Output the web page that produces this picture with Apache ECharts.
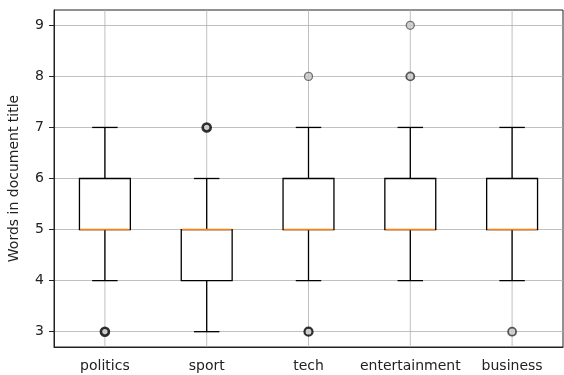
<!DOCTYPE html>
<html><head><meta charset="utf-8">
<script src="https://cdn.jsdelivr.net/npm/echarts@6/dist/echarts.min.js"></script>
<style>html,body{margin:0;padding:0;background:#fff}#c{width:564px;height:375px}</style>
</head><body><div id="c"></div>
<script>
const categories = ['politics', 'sport', 'tech', 'entertainment', 'business'];
const whiskerLow  = [4, 3, 4, 4, 4];
const q1          = [5, 4, 5, 5, 5];
const median      = [5, 5, 5, 5, 5];
const q3          = [6, 5, 6, 6, 6];
const whiskerHigh = [7, 6, 7, 7, 7];
// outliers: [category index, value, estimated number of overlapping points]
const outlierCat   = [0, 1, 2, 2, 3, 3, 4];
const outlierValue = [3, 7, 8, 3, 9, 8, 3];
const outlierCount = [30, 30, 1, 12, 1, 5, 4];
const yTicks = [3, 4, 5, 6, 7, 8, 9];

const boxData = categories.map((c, i) => [i, whiskerLow[i], q1[i], median[i], q3[i], whiskerHigh[i]]);
const outData = outlierCat.map((c, i) => ({
  value: [c, outlierValue[i]],
  itemStyle: {
    borderColor: outlierCount[i] > 10 ? '#000' : (outlierCount[i] > 2 ? '#333' : '#555'),
    borderWidth: outlierCount[i] > 20 ? 2.6 : (outlierCount[i] > 10 ? 2.2 : (outlierCount[i] > 2 ? 1.8 : 1.3))
  }
}));

const lineStyle = { stroke: '#000', lineWidth: 1.3, fill: null };

function renderGrid(params, api) {
  const cs = params.coordSys;
  const p = api.coord([api.value(0), 0]);
  return { type: 'line', shape: { x1: p[0], y1: cs.y, x2: p[0], y2: cs.y + cs.height },
    style: { stroke: '#b0b0b0', lineWidth: 0.8 }, silent: true };
}

function renderBox(params, api) {
  const i = api.value(0);
  const pLo = api.coord([i, api.value(1)]);
  const pQ1 = api.coord([i, api.value(2)]);
  const pMd = api.coord([i, api.value(3)]);
  const pQ3 = api.coord([i, api.value(4)]);
  const pHi = api.coord([i, api.value(5)]);
  const band = api.size([1, 0])[0];
  const bw = band * 0.5, cw = band * 0.25;
  const x = pMd[0];
  return {
    type: 'group',
    children: [
      { type: 'line', shape: { x1: x, y1: pQ1[1], x2: x, y2: pLo[1] }, style: lineStyle },
      { type: 'line', shape: { x1: x, y1: pQ3[1], x2: x, y2: pHi[1] }, style: lineStyle },
      { type: 'line', shape: { x1: x - cw / 2, y1: pLo[1], x2: x + cw / 2, y2: pLo[1] }, style: lineStyle },
      { type: 'line', shape: { x1: x - cw / 2, y1: pHi[1], x2: x + cw / 2, y2: pHi[1] }, style: lineStyle },
      { type: 'rect', shape: { x: x - bw / 2, y: pQ3[1], width: bw, height: pQ1[1] - pQ3[1] },
        style: { stroke: '#000', lineWidth: 1.3, fill: '#fff' } },
      { type: 'line', shape: { x1: x - bw / 2 + 0.7, y1: pMd[1], x2: x + bw / 2 - 0.7, y2: pMd[1] },
        style: { stroke: '#ff7f0e', lineWidth: 1.6 } }
    ]
  };
}

const chart = echarts.init(document.getElementById('c'), null, { renderer: 'canvas' });
const txt = { color: '#222', fontFamily: 'DejaVu Sans', fontSize: 14 };
chart.setOption({
  animation: false,
  grid: { left: 54, right: 1, top: 10, bottom: 28, show: true, borderColor: '#222', borderWidth: 1,
    backgroundColor: 'transparent', containLabel: false, outerBoundsMode: 'none' },
  xAxis: {
    type: 'category', data: categories, boundaryGap: true,
    axisLine: { lineStyle: { color: '#222', width: 1 } },
    axisTick: { alignWithLabel: true, length: 5, lineStyle: { color: '#222' } },
    axisLabel: Object.assign({ margin: 12, interval: 0 }, txt),
    splitLine: { show: false }
  },
  yAxis: {
    type: 'value', min: 2.7, max: 9.3,
    name: 'Words in document title', nameLocation: 'middle', nameGap: 33,
    nameTextStyle: txt,
    axisLine: { show: true, lineStyle: { color: '#222', width: 1 } },
    axisTick: { show: true, length: 5, customValues: yTicks, lineStyle: { color: '#222' } },
    axisLabel: Object.assign({ margin: 10, customValues: yTicks }, txt),
    splitLine: { show: true, lineStyle: { color: '#b0b0b0', width: 0.8 } }
  },
  series: [
    { type: 'custom', data: categories.map((c, i) => [i]), renderItem: renderGrid, z: 1, silent: true },
    { type: 'custom', data: boxData, renderItem: renderBox, z: 3 },
    { type: 'scatter', data: outData, symbol: 'circle', symbolSize: 8, z: 4,
      itemStyle: { color: '#c8c8c8' } }
  ]
});
</script></body></html>
